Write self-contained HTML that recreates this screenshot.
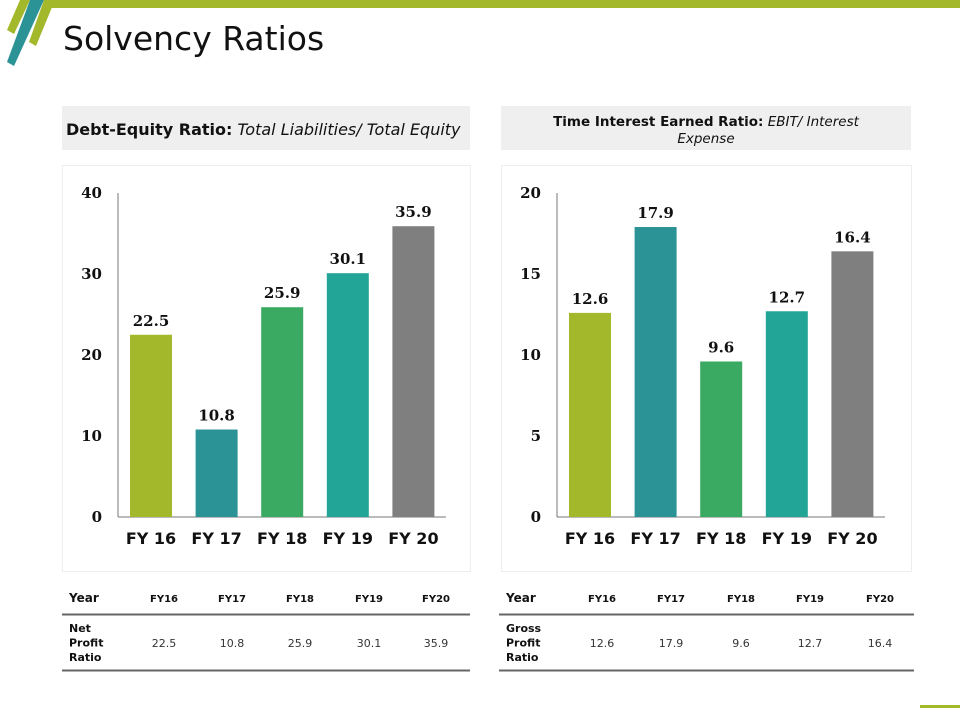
<!DOCTYPE html>
<html><head><meta charset="utf-8"><style>
body{margin:0;width:960px;height:720px;background:#fff;overflow:hidden;font-family:"DejaVu Sans","Liberation Sans",sans-serif}
svg{display:block}
.tick{font-family:"DejaVu Serif","Liberation Serif",serif;font-weight:bold;font-size:15px;fill:#111}
.cat{font-family:"DejaVu Sans",sans-serif;font-weight:bold;font-size:16px;fill:#111}
.th{font-weight:bold;font-size:11px;fill:#111}
.td{font-size:11px;fill:#333}
</style></head><body>
<svg id="s" width="960" height="720">
<rect x="50" y="0" width="910" height="8" fill="#a3b82a"/>
<polygon points="20,0 30,0 14,34 7,30" fill="#a3b82a"/>
<polygon points="44,0 55,0 36,46 29,42" fill="#a3b82a"/>
<polygon points="30,0 44,0 14,66 7,62" fill="#2b9396"/>
<rect x="920" y="705" width="40" height="3" fill="#a3b82a"/>
<text x="63" y="50" font-size="33" fill="#111">Solvency Ratios</text>

<rect x="62" y="106" width="408" height="44" fill="#efefef"/>
<text x="66" y="135" font-size="16" fill="#111"><tspan font-weight="bold">Debt-Equity Ratio:</tspan><tspan font-style="italic"> Total Liabilities/ Total Equity</tspan></text>
<rect x="501" y="106" width="410" height="44" fill="#efefef"/>
<text x="706" y="126" font-size="13.5" fill="#111" text-anchor="middle"><tspan font-weight="bold">Time Interest Earned Ratio:</tspan><tspan font-style="italic"> EBIT/ Interest</tspan></text>
<text x="706" y="143" font-size="13.5" fill="#111" text-anchor="middle" font-style="italic">Expense</text>

<rect x="62.5" y="165.5" width="408" height="406" fill="none" stroke="#eee"/>
<rect x="501.5" y="165.5" width="410" height="406" fill="none" stroke="#eee"/>
<g id="c1"></g><g id="c2"></g><g id="t1"></g><g id="t2"></g>
</svg>
<script>
const categories=["FY 16","FY 17","FY 18","FY 19","FY 20"];
const tableCats=["FY16","FY17","FY18","FY19","FY20"];
const debtEquity=[22.5,10.8,25.9,30.1,35.9];
const timesInterest=[12.6,17.9,9.6,12.7,16.4];
const ticks1=[0,10,20,30,40];
const ticks2=[0,5,10,15,20];
const colors=["#a3b82a","#2b9396","#3aaa62","#22a596","#7f7f7f"];
const NS="http://www.w3.org/2000/svg";
function mk(p,tag,a,txt){const e=document.createElementNS(NS,tag);for(const k in a)e.setAttribute(k,a[k]);if(txt!==undefined)e.textContent=txt;p.appendChild(e);return e;}
function chart(g,ax,vals,ticks,max,pref){
  const y0=517,top=193,step=65.6,bw=42;
  const y=v=>y0-(v/max)*(y0-top);
  const x=i=>ax+33+i*step;
  let l=mk(g,'line',{x1:ax,y1:top,x2:ax,y2:y0,stroke:'#777'});
  
  
  l=mk(g,'line',{x1:ax,y1:y0,x2:ax+328,y2:y0,stroke:'#777'});
  
  
  ticks.forEach(t=>{const e=mk(g,'text',{x:ax-16,y:y(t)+5,'text-anchor':'end',class:'tick'},t);
    
    });
  vals.forEach((v,i)=>{
    const r=mk(g,'rect',{x:x(i)-bw/2,y:y(v),width:bw,height:y0-y(v),fill:colors[i]});
    
    
    const t=mk(g,'text',{x:x(i),y:y(v)-9,'text-anchor':'middle',class:'tick'},v.toFixed(1));
    
    
    const c=mk(g,'text',{x:x(i),y:544,'text-anchor':'middle',class:'cat'},categories[i]);
    
    
  });
}
chart(document.getElementById('c1'),118,debtEquity,ticks1,40,'debt-equity');
chart(document.getElementById('c2'),557,timesInterest,ticks2,20,'times-interest');
function table(g,x0,x1,cols,label,vals,pref){
  let e=mk(g,'text',{x:x0+7,y:602,class:'th',style:'font-size:12px'},'Year');
  
  
  tableCats.forEach((c,i)=>{const h=mk(g,'text',{x:cols[i],y:602,'text-anchor':'middle',class:'th',style:'font-size:10px'},c);
    
    
    const d=mk(g,'text',{x:cols[i],y:647,'text-anchor':'middle',class:'td'},vals[i].toFixed(1));
    
    });
  label.forEach((w,i)=>{const t=mk(g,'text',{x:x0+7,y:632+i*14.5,class:'th'},w);
    
    });
  let l=mk(g,'line',{x1:x0,y1:614.5,x2:x1,y2:614.5,stroke:'#666','stroke-width':2});
  
  
  l=mk(g,'line',{x1:x0,y1:670.5,x2:x1,y2:670.5,stroke:'#666','stroke-width':2});
  
  
}
table(document.getElementById('t1'),62,470,[164,232,300,369,436],["Net","Profit","Ratio"],debtEquity,'left-table');
table(document.getElementById('t2'),499,914,[602,671,741,810,880],["Gross","Profit","Ratio"],timesInterest,'right-table');
</script>
</body></html>
